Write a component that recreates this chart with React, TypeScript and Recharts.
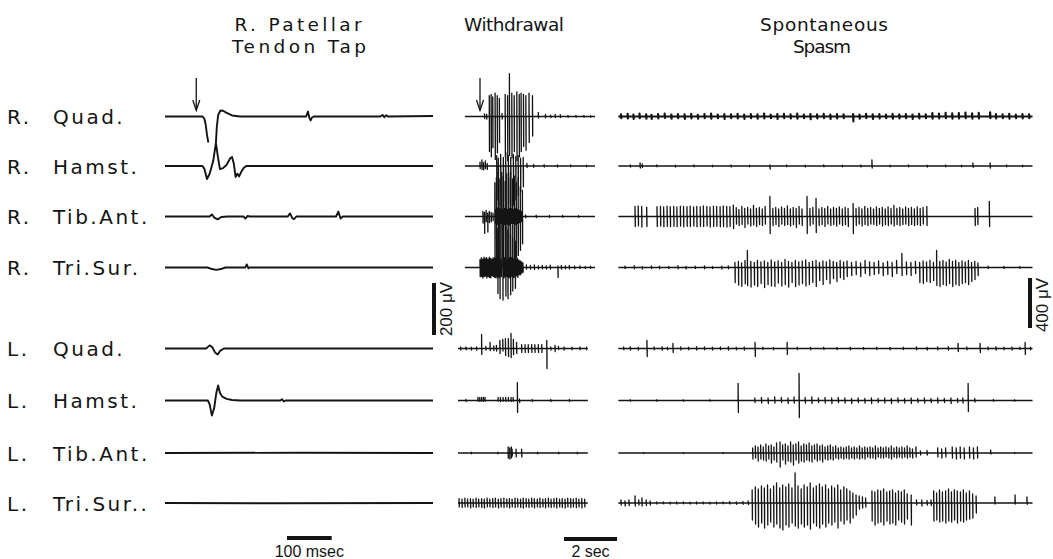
import React from "react";
import { LineChart, Line, XAxis, YAxis } from "recharts";

type Spike = [number, number, number]; // [time, up µV, down µV]
type Sample = [number, number | null]; // [time ms, µV]

// ---------- labels ----------
const SIDES = ["R.", "R.", "R.", "R.", "L.", "L.", "L.", "L."];
const MUSCLES = ["Quad.", "Hamst.", "Tib.Ant.", "Tri.Sur.", "Quad.", "Hamst.", "Tib.Ant.", "Tri.Sur.."];
const TITLE_TAP = ["R. Patellar", "Tendon Tap"];
const TITLE_WD = ["Withdrawal"];
const TITLE_SP = ["Spontaneous", "Spasm"];
const SCALE_LABELS = { uv1: "200 \u03bcV", uv2: "400 \u03bcV", t1: "100 msec", t2: "2 sec" };
const SCALE_VALUES = { uv1: 200, uv2: 400, t1: 100, t2: 2 };
const STIM_TIMES = { tap: 70, withdrawal: 0.83 };

// ---------- Panel 1 : tendon tap (ms, µV) ----------
const P1_RQUAD: Sample[] = [[0, 0], [84, 0], [88, -8], [91, -30], [94, -70], [97, -100], [98, null], [114, -100], [116, -40], [119, 5], [124, 23], [130, 22], [137, 15], [150, 4], [168, 0], [300, 0], [316, 0], [320, 19], [323, -4], [326, -15], [329, -4], [333, 0], [482, 0], [487, 6], [491, -3], [495, 5], [499, 0], [600, 2]];
const P1_RHAMST: Sample[] = [[0, 0], [84, 0], [88, -10], [94, -50], [100, -30], [108, 20], [114, 89], [118, 40], [123, -12], [130, -8], [138, 5], [146, 30], [150, 35], [154, 10], [158, -42], [162, -30], [166, -40], [170, -25], [176, -8], [182, 0], [600, 0]];
const P1_RTIB: Sample[] = [[0, 0], [100, 0], [105, 8], [110, -4], [118, -11], [126, -2], [140, 0], [176, 0], [180, -8], [185, 2], [190, 0], [275, 0], [280, 12], [285, -6], [289, -10], [294, 0], [383, 0], [388, 19], [393, -8], [398, 0], [600, 0]];
const P1_RTRI: Sample[] = [[0, 0], [95, 0], [105, -6], [115, -9], [125, -6], [135, 0], [180, 0], [183, 12], [187, -3], [190, 0], [600, 0]];
const P1_LQUAD: Sample[] = [[0, 0], [92, 0], [100, 12], [106, 5], [112, -15], [118, -23], [124, -8], [132, 0], [600, 0]];
const P1_LHAMST: Sample[] = [[0, 0], [96, 0], [100, -15], [105, -58], [110, -30], [115, 30], [119, 58], [123, 30], [128, 15], [138, 6], [150, 2], [168, 0], [258, 0], [262, 5], [266, -4], [270, 0], [600, 0]];
const P1_LTIB: Sample[] = [[0, 0], [300, 1], [600, 0]];
const P1_LTRI: Sample[] = [[0, 0], [260, -1], [600, 0]];

// ---------- Panel 2 : withdrawal (s, µV) ----------
const P2_RQUAD: Spike[] = [[1.18, 80, 135], [1.25, 85, 155], [1.31, 75, 120], [1.40, 90, 165], [1.48, 80, 140], [1.56, 70, 100], [1.78, 85, 155], [1.87, 80, 170], [1.94, 165, 150], [2.03, 90, 160], [2.12, 80, 135], [2.22, 95, 170], [2.31, 85, 155], [2.38, 90, 135], [2.47, 85, 115], [2.56, 80, 130], [2.68, 90, 100], [2.81, 80, 75], [1.0, 10, 8], [1.08, 8, 10], [1.66, 12, 10], [3.03, 16, 6], [3.3, 8, 5], [3.5, 5, 4], [3.67, 8, 4], [3.86, 7, 4], [4.15, 4, 3], [4.45, 4, 3], [4.75, 4, 3], [5.0, 3, 3]];
const P2_RHAMST: Spike[] = [[0.83, 15, 10], [0.9, 23, 13], [0.96, 13, 15], [1.03, 20, 10], [1.1, 10, 13], [1.46, 40, 130], [1.52, 30, 150], [1.61, 45, 155], [1.71, 33, 135], [1.8, 52, 165], [1.9, 40, 145], [1.99, 33, 155], [2.09, 45, 150], [2.18, 36, 130], [2.27, 40, 115], [2.36, 30, 100], [2.46, 33, 80], [2.6, 10, 6], [2.85, 6, 5], [3.25, 5, 4], [3.75, 4, 4], [4.25, 4, 3], [4.85, 3, 3]];
const P2_RTIB: Spike[] = [[0.94, 20, 25], [1.0, 16, 65], [1.06, 23, 20], [1.12, 13, 60], [1.18, 20, 23], [1.25, 16, 20], [1.32, 13, 16], [1.39, 130, 170], [1.45, 150, 195], [1.52, 165, 180], [1.58, 145, 200], [1.65, 170, 190], [1.71, 155, 210], [1.78, 135, 175], [1.84, 165, 195], [1.91, 150, 180], [1.98, 170, 200], [2.06, 145, 170], [2.13, 155, 180], [2.2, 130, 160], [2.27, 150, 150], [2.35, 115, 130], [2.43, 100, 105], [1.42, 26, 26], [1.49, 32, 30], [1.55, 30, 32], [1.62, 32, 26], [1.68, 26, 32], [1.75, 30, 30], [1.81, 32, 26], [1.88, 26, 30], [1.95, 30, 32], [2.02, 32, 26], [2.1, 26, 26], [2.17, 30, 30], [2.24, 26, 26], [2.31, 23, 23], [2.39, 20, 20], [2.55, 6, 5], [2.95, 5, 4], [3.45, 4, 4], [3.95, 4, 3], [4.55, 3, 3]];
const P2_RTRI: Spike[] = [[0.83, 30, 35], [0.88, 38, 35], [0.93, 32, 40], [0.98, 40, 36], [1.03, 35, 33], [1.08, 38, 40], [1.13, 32, 35], [1.18, 40, 38], [1.23, 35, 40], [1.28, 32, 32], [1.33, 38, 35], [1.38, 35, 38], [1.43, 40, 40], [1.48, 38, 35], [1.53, 35, 38], [1.63, 32, 35], [1.73, 38, 40], [1.78, 40, 35], [1.85, 32, 35], [1.93, 38, 38], [1.95, 35, 40], [2.03, 38, 35], [2.1, 32, 38], [2.13, 35, 32], [2.2, 32, 32], [2.25, 35, 38], [2.3, 28, 28], [2.35, 25, 28], [2.4, 22, 22], [2.45, 18, 18], [1.5, 150, 100], [1.58, 165, 120], [1.69, 170, 125], [1.8, 155, 110], [1.88, 145, 120], [1.98, 130, 105], [2.06, 115, 90], [2.16, 100, 80], [2.58, 10, 6], [2.73, 8, 6], [2.88, 10, 8], [3.03, 6, 6], [3.18, 8, 5], [3.33, 6, 6], [3.48, 9, 6], [3.77, 6, 38], [3.9, 8, 6], [4.05, 6, 5], [4.2, 8, 6], [4.4, 5, 5], [4.6, 6, 4], [4.8, 4, 4], [5.0, 5, 3]];
const P2_LQUAD: Spike[] = [[0.1, 6, 6], [0.3, 6, 5], [0.5, 5, 6], [0.7, 6, 6], [0.89, 54, 23], [1.05, 8, 6], [1.21, 23, 8], [1.35, 10, 8], [1.45, 12, 10], [1.58, 31, 19], [1.69, 35, 10], [1.79, 38, 27], [1.9, 38, 31], [2.0, 58, 35], [2.09, 35, 23], [2.21, 23, 19], [2.4, 15, 15], [2.53, 15, 15], [2.65, 15, 15], [2.78, 15, 15], [2.9, 15, 15], [3.03, 15, 15], [3.16, 15, 15], [3.35, 31, 77], [3.5, 6, 6], [3.66, 12, 12], [3.79, 8, 4], [4.0, 6, 6], [4.3, 5, 5], [4.6, 6, 5], [4.85, 5, 5]];
const P2_LHAMST: Spike[] = [[0.3, 4, 4], [0.75, 12, 3], [0.82, 12, 3], [0.89, 12, 3], [0.96, 12, 3], [1.02, 12, 3], [1.51, 12, 3], [1.6, 12, 4], [1.7, 12, 3], [1.8, 12, 4], [1.9, 12, 3], [2.0, 12, 4], [2.08, 12, 3], [2.24, 69, 46], [2.32, 6, 8], [2.8, 4, 4], [3.5, 4, 4], [4.2, 4, 4]];
const P2_LTIB: Spike[] = [[0.5, 3, 3], [1.5, 3, 3], [1.89, 23, 20], [1.95, 20, 23], [2.01, 23, 19], [2.04, 15, 12], [2.19, 15, 15], [2.4, 15, 15], [3.0, 3, 3], [3.8, 3, 3], [4.5, 3, 3]];
const P2_LTRI: Spike[] = [[0.04, 17, 15], [0.15, 15, 17], [0.26, 19, 15], [0.36, 15, 15], [0.47, 17, 19], [0.57, 15, 15], [0.68, 19, 17], [0.78, 15, 15], [0.89, 17, 17], [0.99, 15, 19], [1.1, 19, 15], [1.2, 15, 15], [1.31, 17, 17], [1.41, 19, 15], [1.52, 15, 19], [1.62, 17, 15], [1.73, 19, 17], [1.84, 15, 15], [1.94, 17, 19], [2.04, 15, 15], [2.15, 19, 17], [2.25, 17, 15], [2.36, 15, 17], [2.46, 19, 19], [2.57, 17, 15], [2.67, 15, 17], [2.78, 19, 15], [2.88, 17, 19], [2.99, 15, 15], [3.09, 19, 17], [3.2, 15, 15], [3.3, 17, 19], [3.41, 19, 15], [3.51, 15, 17], [3.62, 17, 15], [3.72, 19, 19], [3.83, 15, 15], [3.93, 17, 17], [4.04, 15, 19], [4.14, 19, 15], [4.25, 17, 17], [4.35, 15, 15], [4.46, 19, 17], [4.56, 15, 15], [4.67, 17, 19], [4.78, 15, 15]];

// ---------- Panel 3 : spontaneous spasm (s, µV) ----------
const P3_RQUAD: Spike[] = [[0.15, 18, 14], [0.4, 22, 16], [0.62, 16, 20], [0.85, 24, 14], [1.1, 18, 18], [1.3, 14, 20], [1.55, 20, 16], [1.8, 24, 12], [2.05, 16, 18], [2.3, 20, 14], [2.55, 18, 20], [2.8, 22, 16], [3.05, 14, 18], [3.3, 20, 14], [3.55, 24, 18], [3.8, 16, 14], [4.05, 20, 20], [4.3, 18, 14], [4.55, 22, 16], [4.8, 16, 20], [5.05, 20, 14], [5.3, 18, 18], [5.55, 24, 16], [5.8, 16, 14], [6.05, 20, 20], [6.3, 22, 14], [6.55, 18, 16], [6.8, 24, 18], [7.05, 16, 14], [7.3, 20, 22], [7.55, 18, 16], [7.8, 22, 14], [8.05, 16, 20], [8.3, 20, 16], [8.55, 18, 14], [8.91, 20, 40], [9.15, 16, 18], [9.4, 22, 14], [9.65, 18, 20], [9.9, 20, 16], [10.15, 16, 14], [10.4, 22, 18], [10.65, 18, 16], [10.9, 20, 14], [11.15, 16, 20], [11.4, 22, 16], [11.65, 18, 14], [11.9, 28, 18], [12.15, 24, 16], [12.4, 30, 14], [12.65, 26, 18], [12.9, 28, 16], [13.15, 32, 14], [13.4, 26, 18], [13.65, 30, 16], [14.08, 34, 14], [14.3, 20, 16], [14.55, 18, 14], [14.8, 22, 18], [15.05, 16, 14], [15.3, 20, 16], [15.55, 18, 14]];
const P3_RHAMST: Spike[] = [[0.5, 8, 8], [0.87, 24, 16], [0.95, 16, 12], [1.5, 8, 6], [2.2, 6, 8], [2.9, 8, 6], [3.6, 6, 6], [4.3, 8, 8], [5.0, 6, 6], [5.77, 8, 24], [6.4, 8, 6], [7.1, 6, 8], [7.8, 8, 6], [8.5, 6, 6], [9.2, 8, 8], [9.62, 48, 16], [10.3, 6, 6], [11.0, 8, 6], [11.7, 6, 8], [12.4, 8, 6], [13.0, 6, 6], [13.43, 24, 10], [14.08, 24, 16], [14.7, 8, 6], [15.3, 6, 6]];
const P3_RTIB: Spike[] = [[0.68, 80, 80], [0.80, 85, 75], [0.93, 80, 85], [1.12, 75, 80], [1.51, 78, 80], [1.64, 80, 76], [1.76, 76, 82], [1.89, 82, 78], [2.01, 78, 80], [2.14, 80, 78], [2.26, 76, 80], [2.39, 82, 76], [2.51, 80, 82], [2.64, 78, 78], [2.76, 82, 80], [2.89, 76, 76], [3.01, 80, 82], [3.14, 78, 78], [3.26, 84, 80], [3.39, 80, 76], [3.51, 76, 84], [3.64, 82, 80], [3.76, 80, 78], [3.89, 78, 82], [4.01, 84, 80], [4.14, 80, 84], [4.26, 78, 80], [4.39, 90, 96], [4.5, 70, 60], [4.6, 56, 72], [4.71, 80, 64], [4.82, 64, 88], [4.93, 72, 60], [5.04, 60, 76], [5.15, 88, 68], [5.26, 64, 80], [5.37, 72, 64], [5.48, 60, 72], [5.59, 80, 60], [5.77, 160, 136], [5.88, 64, 72], [5.99, 72, 64], [6.1, 60, 80], [6.21, 76, 60], [6.32, 64, 72], [6.43, 84, 64], [6.54, 60, 76], [6.65, 72, 64], [6.76, 64, 88], [6.87, 80, 60], [6.98, 60, 72], [7.17, 160, 136], [7.28, 64, 72], [7.39, 72, 60], [7.51, 144, 128], [7.62, 60, 72], [7.73, 72, 64], [7.84, 64, 80], [7.95, 80, 60], [8.06, 60, 72], [8.17, 72, 64], [8.28, 64, 76], [8.39, 76, 60], [8.5, 60, 72], [8.61, 72, 64], [8.72, 64, 80], [8.91, 104, 136], [9.02, 64, 72], [9.13, 72, 60], [9.24, 60, 76], [9.35, 80, 64], [9.46, 64, 72], [9.57, 72, 60], [9.68, 60, 64], [9.79, 76, 72], [9.9, 64, 60], [10.01, 72, 76], [10.12, 60, 64], [10.23, 76, 72], [10.34, 64, 60], [10.45, 88, 76], [10.56, 64, 64], [10.67, 72, 72], [10.78, 60, 64], [10.89, 76, 60], [11.0, 64, 72], [11.11, 72, 64], [11.22, 60, 72], [11.33, 76, 64], [11.44, 64, 72], [11.55, 72, 60], [11.69, 80, 72], [13.51, 64, 72], [13.61, 72, 64], [14.05, 120, 80]];
const P3_RTRI: Spike[] = [[0.3, 10, 8], [0.65, 14, 10], [0.95, 8, 12], [1.3, 12, 8], [1.6, 10, 10], [1.95, 8, 8], [2.3, 14, 10], [2.6, 8, 12], [2.95, 10, 8], [3.3, 12, 10], [3.6, 8, 8], [3.95, 10, 12], [4.2, 12, 10], [4.45, 40, 120], [4.58, 48, 140], [4.7, 36, 150], [4.83, 56, 130], [4.92, 136, 144], [5.05, 48, 156], [5.18, 40, 140], [5.3, 56, 152], [5.43, 44, 128], [5.56, 52, 160], [5.69, 40, 136], [5.82, 60, 148], [5.95, 44, 152], [6.08, 52, 124], [6.21, 40, 148], [6.34, 64, 136], [6.47, 48, 156], [6.6, 40, 120], [6.73, 56, 152], [6.86, 44, 140], [6.99, 52, 128], [7.12, 60, 148], [7.25, 40, 136], [7.38, 48, 120], [7.51, 56, 152], [7.64, 40, 104], [7.77, 52, 136], [7.9, 44, 96], [8.03, 60, 128], [8.16, 48, 88], [8.29, 40, 112], [8.42, 56, 80], [8.55, 44, 96], [8.68, 52, 72], [8.85, 40, 64], [9.02, 48, 56], [9.19, 36, 72], [9.36, 56, 48], [9.53, 44, 64], [9.7, 40, 56], [9.87, 52, 48], [10.04, 36, 64], [10.21, 48, 56], [10.38, 40, 72], [10.55, 56, 48], [10.75, 112, 64], [10.92, 44, 56], [11.09, 40, 64], [11.26, 48, 48], [11.42, 40, 120], [11.55, 52, 128], [11.68, 44, 112], [11.81, 56, 120], [11.94, 40, 104], [12.06, 136, 144], [12.18, 48, 152], [12.3, 56, 136], [12.42, 44, 144], [12.54, 64, 128], [12.66, 48, 152], [12.78, 56, 136], [12.9, 40, 144], [13.02, 52, 128], [13.14, 44, 120], [13.26, 56, 136], [13.38, 40, 112], [13.5, 48, 96], [13.62, 36, 64], [14.0, 10, 8], [14.6, 8, 8], [15.2, 8, 6]];
const P3_LQUAD: Spike[] = [[0.25, 12, 10], [0.5, 14, 12], [0.8, 10, 12], [1.13, 64, 64], [1.4, 12, 10], [1.7, 14, 12], [1.9, 10, 10], [2.11, 40, 32], [2.4, 12, 12], [2.7, 10, 10], [3.0, 14, 12], [3.3, 12, 10], [3.6, 10, 12], [3.9, 12, 10], [4.2, 14, 12], [4.5, 10, 10], [4.8, 12, 12], [5.21, 48, 64], [5.5, 10, 8], [5.9, 8, 10], [6.42, 48, 48], [6.8, 10, 8], [7.3, 8, 10], [7.8, 10, 8], [8.3, 8, 8], [8.8, 10, 10], [9.3, 8, 8], [9.8, 10, 8], [10.3, 8, 10], [10.8, 10, 8], [11.3, 12, 10], [11.7, 10, 12], [12.1, 12, 10], [12.5, 14, 12], [12.87, 40, 24], [13.2, 12, 10], [13.7, 40, 32], [14.0, 12, 10], [14.3, 14, 12], [14.6, 10, 10], [14.9, 12, 12], [15.2, 10, 8], [15.4, 48, 48], [15.6, 10, 10]];
const P3_LHAMST: Spike[] = [[0.5, 6, 6], [1.5, 6, 6], [2.5, 6, 6], [3.5, 6, 6], [4.57, 136, 96], [5.2, 20, 16], [5.45, 24, 20], [5.7, 20, 24], [5.95, 28, 20], [6.2, 24, 16], [6.45, 20, 24], [6.68, 28, 20], [6.87, 216, 136], [7.1, 24, 20], [7.35, 28, 24], [7.6, 20, 16], [7.85, 24, 20], [8.1, 20, 24], [8.35, 24, 16], [8.6, 20, 20], [8.85, 16, 24], [9.1, 20, 16], [9.35, 16, 20], [9.6, 20, 24], [9.85, 16, 16], [10.1, 20, 20], [10.35, 16, 24], [10.6, 20, 16], [10.85, 16, 20], [11.1, 20, 24], [11.35, 16, 16], [11.6, 20, 20], [11.85, 16, 16], [12.1, 20, 20], [12.35, 16, 16], [12.6, 20, 24], [12.85, 16, 16], [13.05, 20, 20], [13.25, 136, 88], [13.5, 16, 12], [14.2, 8, 6], [15.0, 6, 6]];
const P3_LTIB: Spike[] = [[1.0, 4, 4], [2.5, 4, 4], [4.0, 4, 4], [5.12, 40, 48], [5.22, 56, 40], [5.32, 48, 64], [5.42, 64, 48], [5.52, 48, 56], [5.62, 72, 64], [5.72, 56, 48], [5.82, 64, 80], [5.92, 48, 56], [6.02, 80, 72], [6.15, 88, 112], [6.25, 64, 56], [6.35, 72, 88], [6.45, 56, 64], [6.55, 88, 72], [6.65, 64, 96], [6.75, 72, 56], [6.85, 88, 80], [6.95, 56, 64], [7.05, 72, 72], [7.15, 64, 56], [7.25, 80, 64], [7.35, 56, 72], [7.45, 64, 48], [7.55, 72, 64], [7.65, 56, 56], [7.75, 64, 72], [7.85, 48, 48], [7.95, 56, 56], [8.05, 64, 48], [8.15, 48, 56], [8.25, 56, 40], [8.35, 40, 48], [8.45, 48, 40], [8.55, 40, 48], [8.65, 48, 40], [8.75, 56, 48], [8.85, 40, 40], [8.95, 48, 48], [9.05, 40, 40], [9.15, 56, 48], [9.25, 40, 40], [9.35, 48, 48], [9.45, 40, 32], [9.55, 48, 40], [9.65, 40, 40], [9.75, 56, 48], [9.85, 40, 32], [9.95, 48, 40], [10.05, 40, 40], [10.15, 48, 32], [10.25, 40, 40], [10.35, 56, 48], [10.45, 40, 32], [10.55, 48, 40], [10.65, 40, 32], [10.75, 48, 40], [10.85, 40, 32], [10.95, 56, 40], [11.05, 40, 32], [11.15, 32, 40], [11.28, 48, 32], [11.45, 16, 16], [11.7, 20, 16], [12.1, 40, 32], [12.25, 32, 40], [12.4, 40, 32], [12.65, 48, 40], [12.8, 40, 48], [12.95, 48, 40], [13.1, 40, 48], [13.3, 48, 40], [13.45, 40, 48], [13.6, 48, 40], [14.1, 24, 8], [15.0, 4, 4]];
const P3_LTRI: Spike[] = [[0.15, 24, 16], [0.3, 16, 24], [0.45, 24, 20], [0.68, 56, 24], [0.82, 24, 16], [0.94, 40, 24], [1.1, 24, 20], [1.25, 16, 16], [1.5, 8, 8], [1.75, 8, 6], [2.0, 6, 8], [2.25, 8, 8], [2.5, 8, 6], [2.75, 6, 8], [3.0, 8, 8], [3.25, 8, 6], [3.5, 6, 8], [3.75, 8, 8], [4.0, 8, 6], [4.25, 10, 8], [4.5, 8, 10], [4.75, 12, 10], [4.95, 16, 12], [5.1, 104, 136], [5.22, 128, 168], [5.33, 112, 192], [5.45, 136, 160], [5.56, 120, 200], [5.68, 144, 176], [5.79, 112, 152], [5.91, 136, 192], [6.02, 160, 168], [6.14, 120, 200], [6.25, 144, 216], [6.37, 128, 176], [6.48, 152, 192], [6.6, 120, 160], [6.72, 240, 184], [6.83, 136, 200], [6.95, 112, 168], [7.06, 144, 192], [7.18, 128, 176], [7.29, 160, 208], [7.41, 120, 160], [7.52, 136, 184], [7.64, 152, 200], [7.75, 128, 168], [7.87, 144, 192], [7.98, 112, 160], [8.1, 136, 176], [8.21, 120, 152], [8.33, 144, 200], [8.44, 104, 144], [8.56, 128, 168], [8.67, 112, 136], [8.79, 96, 160], [8.9, 80, 120], [9.02, 64, 96], [9.14, 56, 48], [9.26, 48, 40], [9.38, 40, 32], [9.62, 96, 144], [9.73, 88, 176], [9.84, 104, 160], [9.95, 96, 152], [10.06, 112, 176], [10.18, 88, 144], [10.29, 96, 168], [10.4, 104, 160], [10.51, 80, 176], [10.62, 96, 136], [10.73, 88, 152], [10.84, 104, 168], [10.95, 72, 128], [11.1, 64, 176], [11.3, 24, 16], [11.5, 24, 24], [11.7, 20, 16], [11.85, 24, 20], [11.95, 96, 144], [12.06, 80, 136], [12.17, 104, 152], [12.28, 88, 144], [12.4, 96, 160], [12.51, 112, 144], [12.62, 88, 152], [12.73, 104, 136], [12.84, 96, 160], [12.96, 88, 144], [13.07, 104, 152], [13.18, 80, 136], [13.3, 96, 128], [13.42, 72, 120], [13.55, 56, 80], [14.26, 48, 8], [15.02, 64, 8], [15.47, 48, 10]];

// ---------- layout (pixels) ----------
const W = 1053;
const H = 559;
const ROW_Y = [116.5, 166, 216.5, 267.5, 348.5, 400.5, 453, 503];
const INK = "#141414";

type Pt = { t: number; v: number | null };

function waveLine(samples: Sample[], row: number, k: number): Pt[] {
  const base = -ROW_Y[row] * k;
  return samples.map(([t, v]) => ({ t, v: v === null ? null : base + v }));
}

function spikeLine(spikes: Spike[], t0: number, t1: number, row: number, k: number, eps: number): Pt[] {
  const base = -ROW_Y[row] * k;
  const pts: Pt[] = [{ t: t0, v: base }];
  [...spikes].sort((a, b) => a[0] - b[0]).forEach(([t, u, d]) => {
    pts.push({ t, v: base }, { t, v: base + u }, { t: t + eps, v: base - d }, { t: t + eps, v: base });
  });
  pts.push({ t: t1, v: base });
  return pts;
}

type Panel = { left: number; width: number; t1: number; k: number; lines: { pts: Pt[]; w: number }[] };

const K12 = SCALE_VALUES.uv1 / 52; // µV per px
const K3 = SCALE_VALUES.uv2 / 50;
const P2_PXS = 26.5; // px per second
const P1_T1 = 600;
const P2_T1 = 137 / P2_PXS;
const P3_T1 = 417 / P2_PXS;

const PANEL1: Panel = {
  left: 165, width: 268, t1: P1_T1, k: K12,
  lines: [P1_RQUAD, P1_RHAMST, P1_RTIB, P1_RTRI, P1_LQUAD, P1_LHAMST, P1_LTIB, P1_LTRI].map((s, i) => ({ pts: waveLine(s, i, K12), w: 1.9 })),
};
const PANEL2: Panel = {
  left: 458, width: 137, t1: P2_T1, k: K12,
  lines: [P2_RQUAD, P2_RHAMST, P2_RTIB, P2_RTRI, P2_LQUAD, P2_LHAMST, P2_LTIB, P2_LTRI].map((s, i) => ({
    pts: spikeLine(s, i < 4 ? 0.26 : 0, i < 4 ? P2_T1 : 4.9, i, K12, 0.008),
    w: 1.3,
  })),
};
const PANEL3: Panel = {
  left: 617, width: 417, t1: P3_T1, k: K3,
  lines: [P3_RQUAD, P3_RHAMST, P3_RTIB, P3_RTRI, P3_LQUAD, P3_LHAMST, P3_LTIB, P3_LTRI].map((s, i) => ({
    pts: spikeLine(s, 0.05, 15.68, i, K3, 0.01),
    w: i === 0 ? 2.2 : 1.3,
  })),
};

function TracePanel({ p }: { p: Panel }) {
  return (
    <div style={{ position: "absolute", left: p.left, top: 0, width: p.width, height: H }}>
      <LineChart width={p.width} height={H} margin={{ top: 0, right: 0, bottom: 0, left: 0 }}>
        <XAxis type="number" dataKey="t" domain={[0, p.t1]} hide allowDataOverflow />
        <YAxis type="number" domain={[-H * p.k, 0]} hide allowDataOverflow />
        {p.lines.map((l, i) => (
          <Line
            key={i}
            data={l.pts}
            dataKey="v"
            type="linear"
            stroke={INK}
            strokeWidth={l.w}
            strokeLinejoin="round"
            dot={false}
            activeDot={false}
            connectNulls={false}
            isAnimationActive={false}
          />
        ))}
      </LineChart>
    </div>
  );
}

const LABEL_FONT = "'DejaVu Sans', 'Liberation Sans', sans-serif";
const SCALE_FONT = "'Liberation Sans', Arial, sans-serif";

// titles: [text, centre x, baseline y, rendered width]
const TITLE_POS: [string, number, number, number][] = [
  [TITLE_TAP[0], 298, 31, 127],
  [TITLE_TAP[1], 299, 53, 134],
  [TITLE_WD[0], 514, 31, 100],
  [TITLE_SP[0], 824, 31, 128],
  [TITLE_SP[1], 822, 53, 58],
];

function Overlay() {
  const arrow1X = PANEL1.left + (STIM_TIMES.tap / PANEL1.t1) * PANEL1.width;
  const arrow2X = PANEL2.left + (STIM_TIMES.withdrawal / PANEL2.t1) * PANEL2.width;
  const bar1H = SCALE_VALUES.uv1 / K12;
  const bar2H = SCALE_VALUES.uv2 / K3;
  const bar3W = (SCALE_VALUES.t1 / PANEL1.t1) * PANEL1.width;
  const bar4W = SCALE_VALUES.t2 * P2_PXS;
  return (
    <svg width={W} height={H} style={{ position: "absolute", left: 0, top: 0, pointerEvents: "none" }}>
      {ROW_Y.map((y, i) => (
        <g key={i} style={{ fontFamily: LABEL_FONT, fontSize: 20, letterSpacing: 2.5, fill: INK }}>
          <text x={7} y={y + 7.5}>{SIDES[i]}</text>
          <text x={53} y={y + 7.5}>{MUSCLES[i]}</text>
        </g>
      ))}
      {TITLE_POS.map(([s, cx, y, w], i) => (
        <text key={i} x={cx - w / 2} y={y} textLength={w} lengthAdjust="spacing"
          style={{ fontFamily: LABEL_FONT, fontSize: 18.5, fill: INK }}>{s}</text>
      ))}

      {[arrow1X, arrow2X].map((x, i) => (
        <g key={i} stroke={INK} strokeWidth={1.3} fill="none">
          <line x1={x} y1={78} x2={x} y2={110} />
          <polyline points={`${x - 3.5},${100} ${x},${110.5} ${x + 3.5},${100}`} />
        </g>
      ))}

      <rect x={432} y={283} width={4} height={bar1H} fill={INK} />
      <text transform={`translate(452,${283 + bar1H / 2}) rotate(-90)`} textAnchor="middle"
        style={{ fontFamily: SCALE_FONT, fontSize: 17, fill: INK }}>{SCALE_LABELS.uv1}</text>
      <rect x={1028} y={278} width={4} height={bar2H} fill={INK} />
      <text transform={`translate(1048,${280 + bar2H / 2}) rotate(-90)`} textAnchor="middle"
        style={{ fontFamily: SCALE_FONT, fontSize: 17, fill: INK }}>{SCALE_LABELS.uv2}</text>

      <rect x={287} y={536} width={bar3W} height={4} fill={INK} />
      <text x={287 + bar3W / 2} y={557} textAnchor="middle" style={{ fontFamily: SCALE_FONT, fontSize: 16, fill: INK }}>{SCALE_LABELS.t1}</text>
      <rect x={564} y={537} width={bar4W} height={4} fill={INK} />
      <text x={564 + bar4W / 2} y={557} textAnchor="middle" style={{ fontFamily: SCALE_FONT, fontSize: 16, fill: INK }}>{SCALE_LABELS.t2}</text>
    </svg>
  );
}

export default function App() {
  return (
    <div style={{ position: "absolute", left: 0, top: 0, width: W, height: H, background: "#fff", overflow: "hidden" }}>
      <TracePanel p={PANEL1} />
      <TracePanel p={PANEL2} />
      <TracePanel p={PANEL3} />
      <Overlay />
    </div>
  );
}
